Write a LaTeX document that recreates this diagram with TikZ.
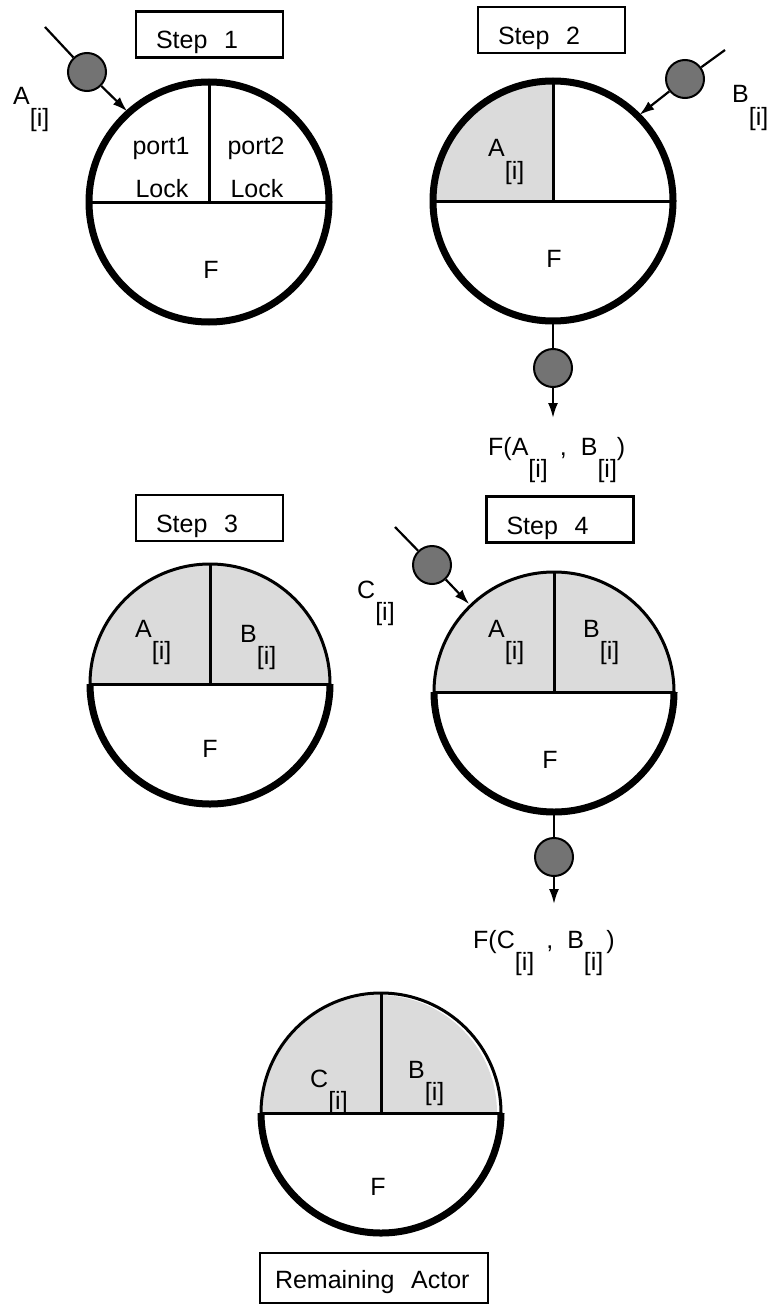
\documentclass[tikz,border=0pt]{standalone}
\usepackage{fontspec}
\setmainfont{Liberation Sans}
\usetikzlibrary{arrows.meta,backgrounds}

\newcommand{\ix}{\raisebox{-0.88em}{[i]}}

\begin{document}
\begin{tikzpicture}[x=1pt, y=-1pt,
        every node/.style={font=\fontsize{25}{30}\selectfont},
        actor/.style={circle, draw, minimum size=240pt, inner sep=0pt, outer sep=0pt},
        rim/.style={line width=3pt},
        heavy/.style={line width=7pt},
        part/.style={line width=3pt},
        held/.style={fill=black!14},
        token/.style={circle, draw, line width=2pt, fill=black!55,
            minimum size=38pt, inner sep=0pt},
        wire/.style={line width=2.2pt},
        flow/.style={wire, -{Latex[length=15pt,width=10pt]}},
        stepbox/.style={draw, line width=2.2pt, align=left, text width=107pt,
            inner xsep=20pt, inner ysep=3pt, minimum height=46pt,
            text height=34pt, text depth=5pt},
        lbl/.style={anchor=base west, inner sep=0pt},
        mid/.style={anchor=base, inner sep=0pt}
    ]
        \useasboundingbox (0,0) rectangle (772,1311);

        % step 1: empty actor, A arrives
        \node[stepbox] (b1) at (209.5,34.5) {Step\ \ 1};
        \node[actor, heavy] (s1) at (209,202) {};
        \draw[part] (s1.west) -- (s1.east) (s1.north) -- (s1.center);
        \node[mid] (p1) at (161,154) {port1};
        \node[mid] (k1) at (162,197) {Lock};
        \node[mid] (p2) at (256,154) {port2};
        \node[mid] (k2) at (257,197) {Lock};
        \node[mid] (f1) at (211,278) {F};
        \coordinate (a0) at (45,27);
        \node[token] (a1) at (87,72) {};
        \node[lbl] (la) at (13,105) {A\ix};
        \draw[wire] (a0) -- (a1);
        \draw[flow, shorten >=2pt] (a1) -- (s1.132);

        % step 2: A held, B arrives, result leaves
        \node[stepbox] (b2) at (551.5,30) {Step\ \ 2};
        \node[actor, heavy] (s2) at (553,201) {};
        \begin{scope}[on background layer]
            \fill[held] (s2.center) -- (s2.west) arc[start angle=180, end angle=90, radius=120pt] -- cycle;
        \end{scope}
        \draw[part] (s2.west) -- (s2.east) (s2.north) -- (s2.center);
        \node[lbl] (a2) at (488,157) {A\ix};
        \node[mid] (f2) at (554,267) {F};
        \coordinate (c0) at (725,50);
        \node[token] (bt) at (685,79) {};
        \node[lbl] (lb) at (732,103) {B\ix};
        \draw[wire] (c0) -- (bt);
        \draw[flow, shorten >=2pt] (bt) -- (s2.45);
        \node[token] (o2) at (553,368) {};
        \coordinate (e2) at (553,418);
        \draw[wire] (s2.south) -- (o2);
        \draw[flow] (o2) -- (e2);
        \node[lbl] (r2) at (488,455) {F(A\ix\hspace{12pt},\hspace{14pt}B\ix)};

        % step 3: both ports held
        \node[stepbox] (b3) at (209.5,518) {Step\ \ 3};
        \node[actor, rim] (s3) at (210,684) {};
        \begin{scope}[on background layer]
            \fill[held] (s3.west) arc[start angle=180, end angle=0, radius=120pt] -- cycle;
        \end{scope}
        \draw[part] (s3.west) -- (s3.east) (s3.north) -- (s3.center);
        \draw[heavy] (s3.west) arc[start angle=180, end angle=360, radius=120pt];
        \node[lbl] (a3) at (135,637) {A\ix};
        \node[lbl] (b3l) at (240,642) {B\ix};
        \node[mid] (f3) at (210,757) {F};

        % step 4: C arrives
        \node[stepbox] (b4) at (560,519.5) {Step\ \ 4};
        \node[actor, rim] (s4) at (554,692) {};
        \begin{scope}[on background layer]
            \fill[held] (s4.west) arc[start angle=180, end angle=0, radius=120pt] -- cycle;
        \end{scope}
        \draw[part] (s4.west) -- (s4.east) (s4.north) -- (s4.center);
        \draw[heavy] (s4.west) arc[start angle=180, end angle=360, radius=120pt];
        \node[lbl] (a4) at (488,637) {A\ix};
        \node[lbl] (b4l) at (583,637) {B\ix};
        \node[mid] (f4) at (550,768) {F};
        \coordinate (d0) at (395,527);
        \node[token] (ct) at (432,565) {};
        \node[lbl] (lc) at (357,598) {C\ix};
        \draw[wire] (d0) -- (ct);
        \draw[flow, shorten >=2pt] (ct) -- (s4.134);
        \node[token] (o4) at (554,857) {};
        \coordinate (e4) at (554,904);
        \draw[wire] (s4.south) -- (o4);
        \draw[flow] (o4) -- (e4);
        \node[lbl] (r4) at (473,948) {F(C\ix\hspace{12pt},\hspace{14pt}B\ix\hspace{3pt})};

        % what is left
        \node[actor, rim] (s5) at (381,1113) {};
        \begin{scope}[on background layer]
            \fill[held] (s5.west) arc[start angle=180, end angle=0, radius=118pt] -- cycle;
        \end{scope}
        \draw[part] (s5.west) -- (s5.east) (s5.north) -- (s5.center);
        \draw[heavy] (s5.west) arc[start angle=180, end angle=360, radius=120pt];
        \node[lbl] (c5) at (310,1087) {C\ix};
        \node[lbl] (b5l) at (408,1078) {B\ix};
        \node[mid] (f5) at (378,1195) {F};
        \node[stepbox, text width=198pt, inner xsep=15pt, minimum height=50pt,
              text height=25pt] (b5) at (374,1278) {Remaining\ \ Actor};
    \end{tikzpicture}
\end{document}
